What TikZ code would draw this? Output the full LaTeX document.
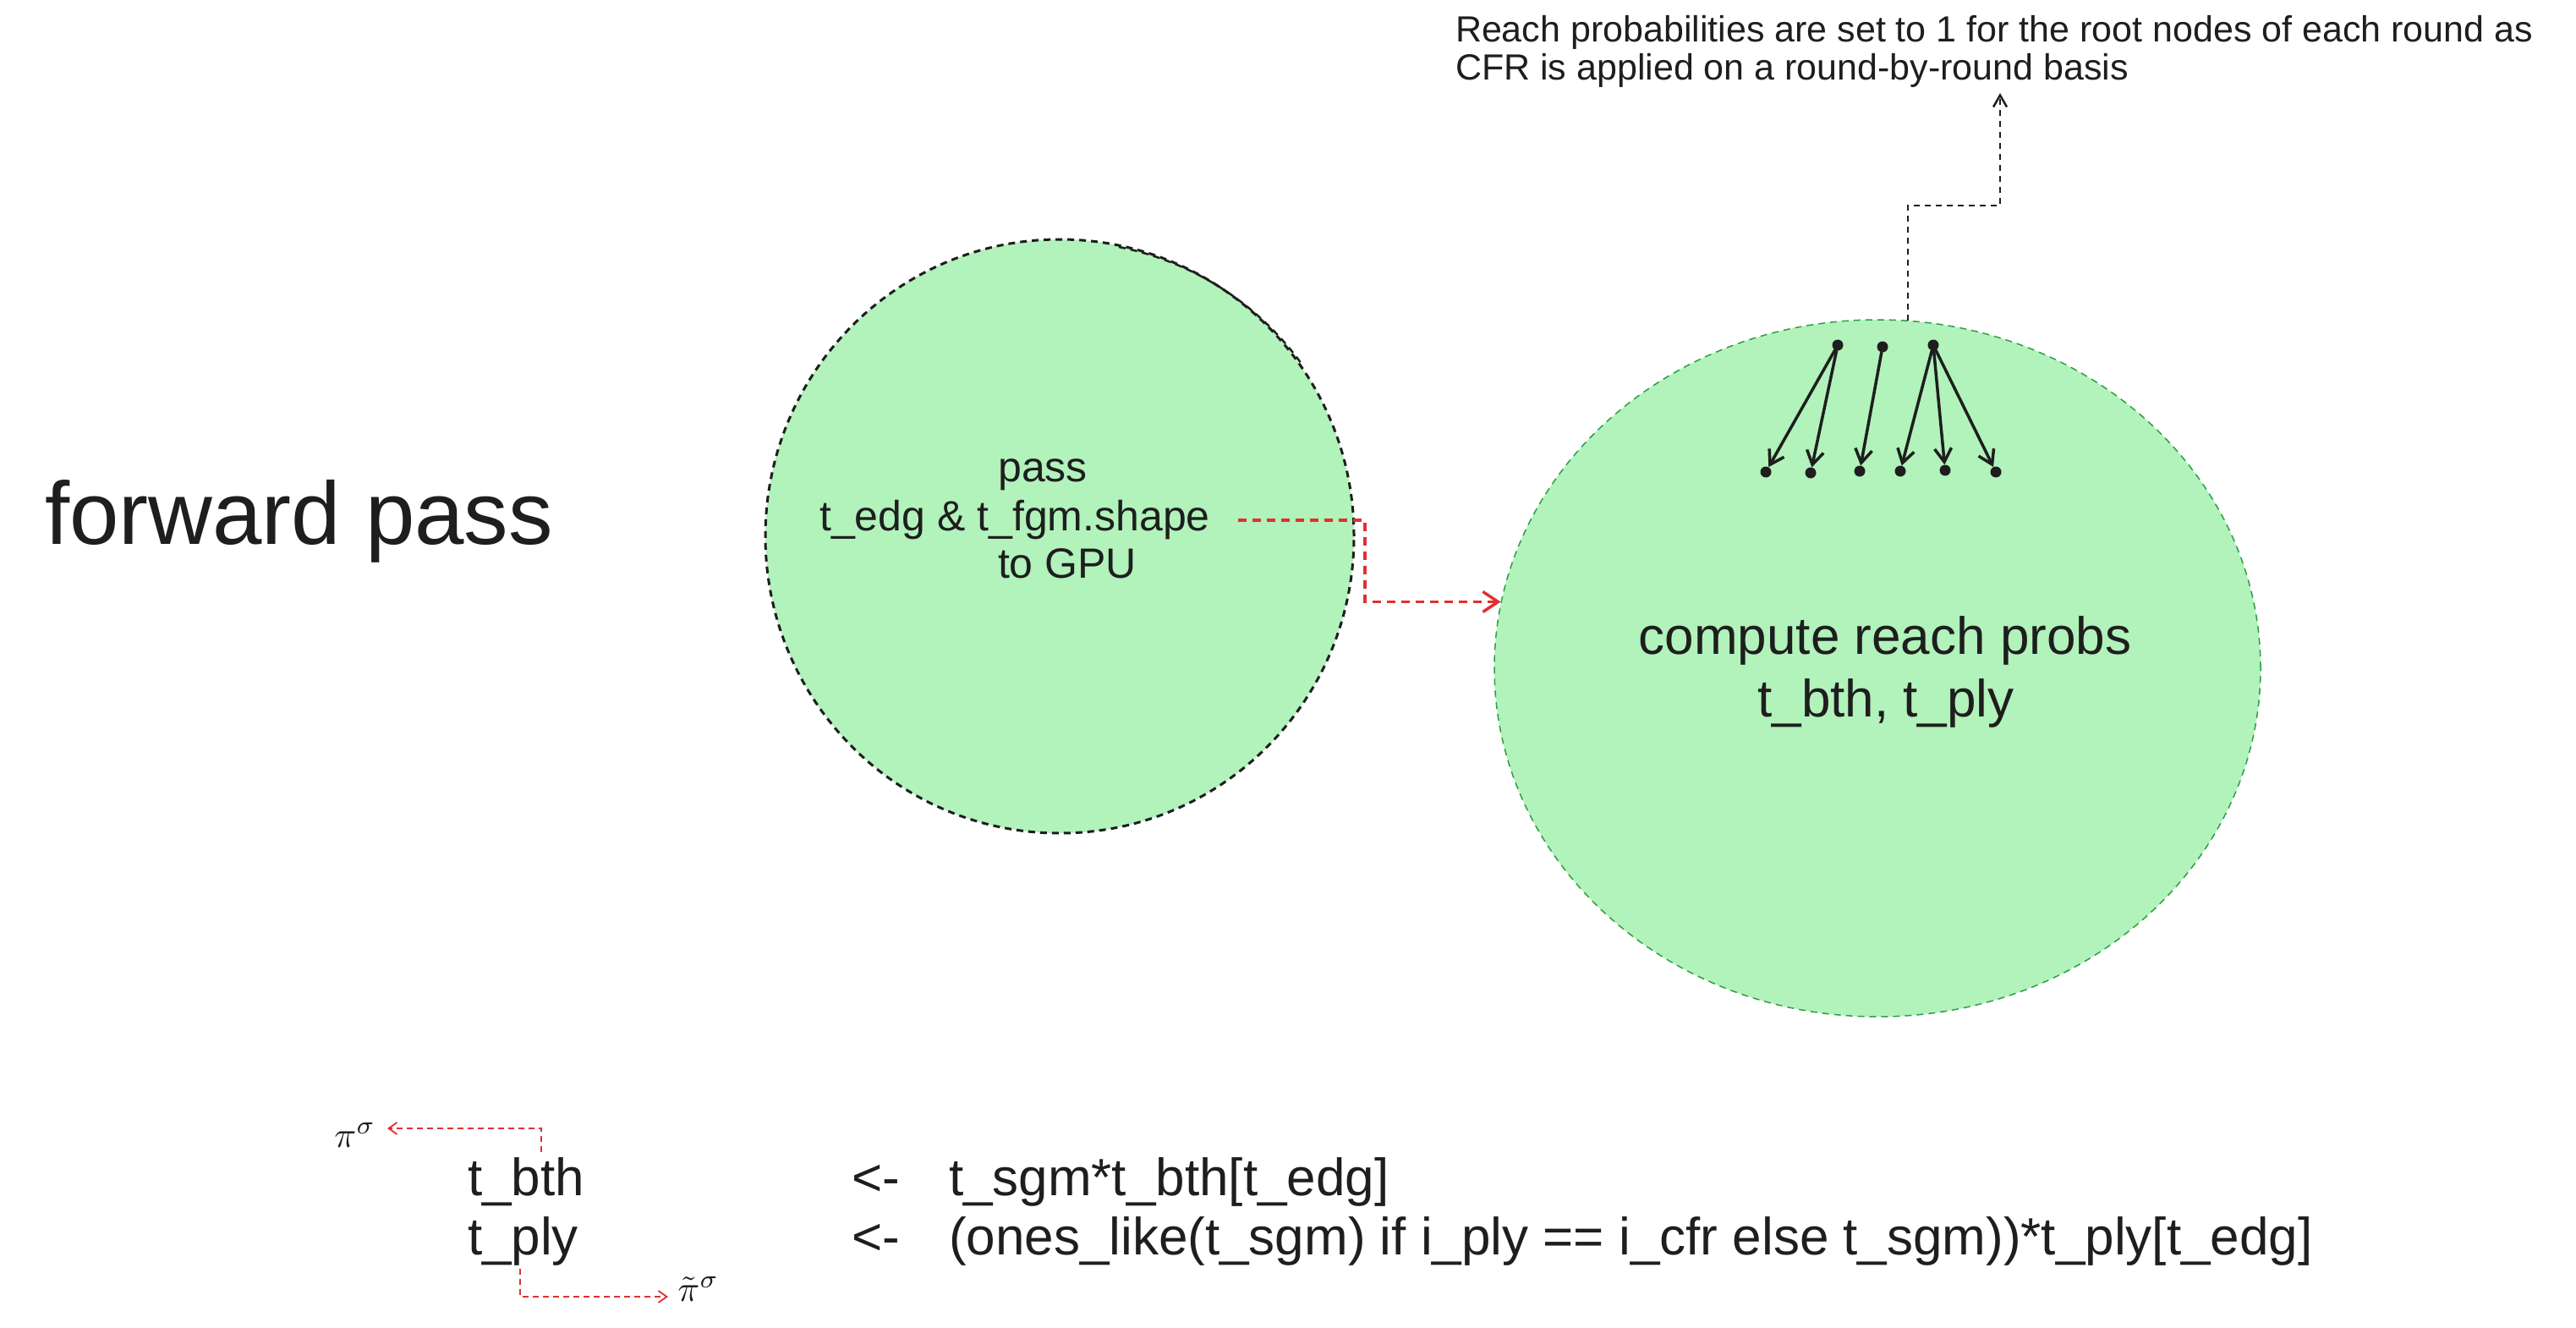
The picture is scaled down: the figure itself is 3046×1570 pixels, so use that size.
\documentclass[tikz,border=0pt]{standalone}
\usepackage{fontspec}
\setmainfont{Liberation Sans}
\usetikzlibrary{arrows.meta,calc,shapes.geometric}
\definecolor{ink}{HTML}{1E1E1E}
\definecolor{exgreen}{HTML}{B2F2BB}
\definecolor{exgreenline}{HTML}{2F9E44}
\definecolor{exred}{HTML}{E03131}
\begin{document}
\begin{tikzpicture}[x=1pt,y=-1pt,
  txt/.style={inner sep=0pt, outer sep=0pt, text=ink, anchor=base},
  big/.style={font=\fontsize{105}{120}\selectfont},
  notefont/.style={font=\fontsize{43}{45}\selectfont},
  lcfont/.style={font=\fontsize{50}{57}\selectfont},
  rcfont/.style={font=\fontsize{62}{74}\selectfont},
  codefont/.style={font=\fontsize{62}{70}\selectfont},
  dot/.style={circle, fill=ink, draw=none, inner sep=0pt, minimum size=13pt},
  treearrow/.style={draw=ink, line width=3.5pt, line cap=round, -{Straight Barb[length=16pt,width=20pt]}},
  notearrow/.style={draw=ink, line width=2.5pt, dash pattern=on 7pt off 6pt, -{Straight Barb[length=14pt,width=16pt]}},
  redarrow/.style={draw=exred, line width=3.5pt, dash pattern=on 10pt off 7pt, -{Straight Barb[length=18pt,width=24pt]}},
  redthin/.style={draw=exred, line width=1.8pt, dash pattern=on 7pt off 5pt, -{Straight Barb[length=10pt,width=14pt]}}
]
\fill[white] (0,0) rectangle (3046,1570);
\useasboundingbox (0,0) rectangle (3046,1570);

% title
\node[txt, big, anchor=base west] (fp) at (53,643) {forward pass};

% left circle
\node[ellipse, inner sep=0pt, minimum width=696pt, minimum height=702pt,
      fill=exgreen, draw=ink, line width=3pt, dash pattern=on 8pt off 6pt] (lc) at (1253,634) {};
\draw[ink, line width=2.5pt, dash pattern=on 8pt off 6pt]
  (1323,292) arc[start angle=-79, end angle=-36, x radius=350, y radius=352];
\node[txt, lcfont] (lc1) at (1233,569) {pass};
\node[txt, lcfont] (lc2) at (1200,627) {t\_edg \& t\_fgm.shape};
\node[txt, lcfont] (lc3) at (1262,683) {to GPU};

% right circle
\node[ellipse, inner sep=0pt, minimum width=906pt, minimum height=824pt,
      fill=exgreen, draw=exgreenline, line width=1.5pt, dash pattern=on 8pt off 6pt] (rc) at (2220,790) {};
\node[txt, rcfont] (rc1) at (2229,773) {compute reach probs};
\node[txt, rcfont] (rc2) at (2230,847) {t\_bth, t\_ply};

% small tree inside right circle
\node[dot] (s1) at (2173,408) {};
\node[dot] (s2) at (2226,410) {};
\node[dot] (s3) at (2286,408) {};
\node[dot] (t1) at (2088,558) {};
\node[dot] (t2) at (2141,559) {};
\node[dot] (t3) at (2199,557) {};
\node[dot] (t4) at (2247,557) {};
\node[dot] (t5) at (2300,556) {};
\node[dot] (t6) at (2360,558) {};
\draw[treearrow] (s1) -- (t1);
\draw[treearrow] (s1) -- (t2);
\draw[treearrow] (s2) -- (t3);
\draw[treearrow] (s3) -- (t4);
\draw[treearrow] (s3) -- (t5);
\draw[treearrow] (s3) -- (t6);

% note
\node[txt, notefont, anchor=base west] (note1) at (1721,50) {Reach probabilities are set to 1 for the root nodes of each round as};
\node[txt, notefont, anchor=base west] (note2) at (1721,95) {CFR is applied on a round-by-round basis};
\coordinate (nmid) at (2365,243);
\coordinate (ntip) at (2365,110);
\draw[notearrow] (rc.85) |- (nmid) -- (ntip);

% red connector between circles
\coordinate (rstart) at (1464,615);
\coordinate (rmid) at (1614,615);
\draw[redarrow] (rstart) -- (rmid) |- (rc.170);

% bottom code
\node[txt, codefont, anchor=base west] (bth) at (553,1413) {t\_bth};
\node[txt, codefont, anchor=base west] (ply) at (553,1483) {t\_ply};
\node[txt, codefont, anchor=base west] (ar1) at (1007,1413) {<-};
\node[txt, codefont, anchor=base west] (ar2) at (1007,1483) {<-};
\node[txt, codefont, anchor=base west] (ex1) at (1122,1413) {t\_sgm*t\_bth[t\_edg]};
\node[txt, codefont, anchor=base west] (ex2) at (1122,1483) {(ones\_like(t\_sgm) if i\_ply == i\_cfr else t\_sgm))*t\_ply[t\_edg]};

\node[txt, anchor=center] (pis) at (420,1342) {\scalebox{4.3}{$\pi^{\sigma}$}};
\node[txt, anchor=center] (pts) at (826,1524) {\scalebox{4.3}{$\tilde{\pi}^{\sigma}$}};

\coordinate (aA) at (640,1362);
\coordinate (aAmid) at (640,1334);
\coordinate (aAend) at (458,1334);
\draw[redthin] (aA) -- (aAmid) -- (aAend);
\coordinate (aB) at (615,1500);
\coordinate (aBmid) at (615,1533);
\coordinate (aBend) at (790,1533);
\draw[redthin] (aB) -- (aBmid) -- (aBend);
\end{tikzpicture}
\end{document}
